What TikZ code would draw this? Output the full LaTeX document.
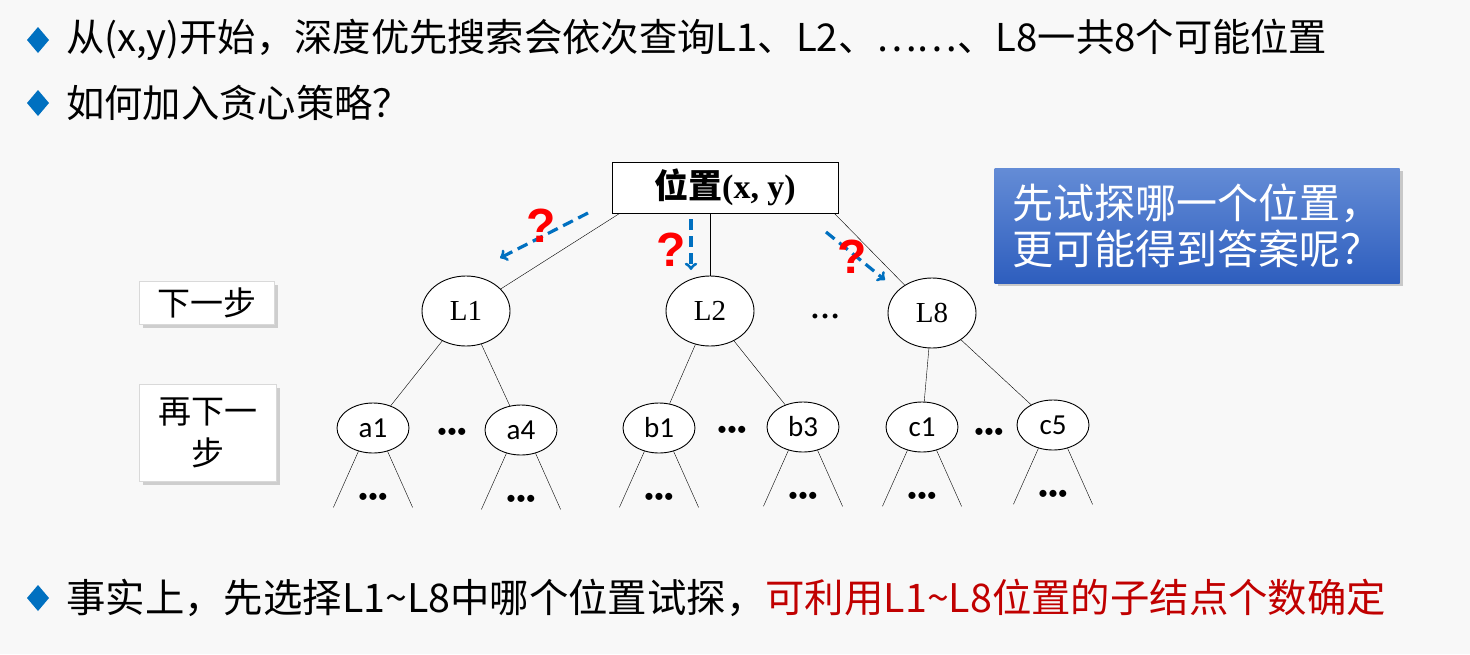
\documentclass[tikz,border=0pt]{standalone}
\usepackage{fontspec}
\setmainfont{Liberation Serif}
\newfontfamily\cjkfont{Noto Sans CJK SC}
\newfontfamily\labelfont{Carlito}
\newfontfamily\qfont{Liberation Sans}
\usetikzlibrary{shapes.geometric,shadows}

\definecolor{bggray}{RGB}{248,248,248}
\definecolor{bulletblue}{RGB}{0,112,192}
\definecolor{hintred}{RGB}{192,0,0}
\definecolor{qred}{RGB}{255,0,0}
\definecolor{boxtop}{RGB}{100,140,214}
\definecolor{boxbottom}{RGB}{46,94,190}

\begin{document}
\begin{tikzpicture}[x=1pt, y=-1pt,
		every node/.style={inner sep=0pt},
		linetext/.style={font=\cjkfont\fontsize{38.3}{44}\selectfont, anchor=west},
		stepbox/.style={draw=gray!30, fill=white, font=\cjkfont\fontsize{33}{42}\selectfont,
			drop shadow={opacity=0.35, shadow xshift=3pt, shadow yshift=-3pt}},
		bigpos/.style={ellipse, draw, line width=0.9pt, fill=white, minimum width=88pt, minimum height=70pt,
			font=\fontsize{29}{32}\selectfont},
		smallpos/.style={ellipse, draw, line width=0.9pt, fill=white, minimum width=72pt, minimum height=50pt,
			font=\labelfont\fontsize{29}{32}\selectfont},
		trydash/.style={->, bulletblue, line width=3.2pt, dash pattern=on 11pt off 6pt},
		qmark/.style={qred, font=\qfont\bfseries\fontsize{48}{50}\selectfont},
		more/.style={font=\labelfont\fontsize{20}{24}\selectfont}]
	\useasboundingbox [fill = bggray] (0,0) rectangle (1470,654);
	% bullets
	\foreach \y in {40, 103, 598}
		\fill [bulletblue] (38,\y-13) -- (49,\y) -- (38,\y+13) -- (27,\y) -- cycle;
	\node [linetext] (line1) at (66,40) {从(x,y)开始，深度优先搜索会依次查询L1、L2、……、L8一共8个可能位置};
	\node [linetext] (line2) at (66,103) {如何加入贪心策略？};
	\node [linetext, font = \cjkfont\fontsize{39.4}{44}\selectfont] (line3) at (66,598) {事实上，先选择L1\textasciitilde L8中哪个位置试探，\textcolor{hintred}{可利用L1\textasciitilde L8位置的子结点个数确定}};
	% tree
	\node [draw, line width = 0.9pt, fill = white, minimum width = 226pt, minimum height = 51pt,
		font = \bfseries\fontsize{34}{38}\selectfont] (root) at (725,187.5) {{\cjkfont\bfseries 位置}(x, y)};
	\node [bigpos] (L1) at (466,311) {L1};
	\node [bigpos] (L2) at (710,311) {L2};
	\node [bigpos] (L8) at (932,313) {L8};
	\node [font = \fontsize{30}{32}\selectfont] (dotsL) at (825,316) {\textbf{\dots}};
	\draw ([xshift = 8pt]root.south west) -- (L1);
	\draw (root.south -| L2.north) -- (L2.north);
	\draw ([xshift = -4pt]root.south east) -- (L8);
	\node [smallpos] (a1) at (373,428) {a1};
	\node [smallpos] (a4) at (521,430) {a4};
	\node [smallpos] (b1) at (659,428) {b1};
	\node [smallpos] (b3) at (803,427) {b3};
	\node [smallpos] (c1) at (922,427) {c1};
	\node [smallpos] (c5) at (1053,425) {c5};
	\node [more] (dotsa) at (452,433) {•••};
	\node [more] (dotsb) at (732,431) {•••};
	\node [more] (dotsc) at (989,433) {•••};
	\draw (L1) -- (a1);
	\draw (L1) -- (a4);
	\draw (L2) -- (b1);
	\draw (L2) -- (b3);
	\draw (L8) -- (c1);
	\draw (L8) -- (c5);
	\foreach \n in {a1, a4, b1, b3, c1, c5} {
		\draw (\n.238) -- ++(-25,56);
		\draw (\n.302) -- ++(25,56);
		\node [more] at ([yshift = -70pt]\n) {•••};
	}
	% which one first?
	\coordinate (t1s) at (588,213);
	\coordinate (t1e) at (500,258);
	\coordinate (t2s) at (691,219);
	\coordinate (t2e) at (691,270);
	\coordinate (t8s) at (826,232);
	\coordinate (t8e) at (885,280);
	\draw [trydash] (t1s) -- (t1e);
	\draw [trydash] (t2s) -- (t2e);
	\draw [trydash] (t8s) -- (t8e);
	\node [qmark] (q1) at (541,226) {?};
	\node [qmark] (q2) at (671,250) {?};
	\node [qmark] (q8) at (852,257) {?};
	% step labels
	\node [stepbox, minimum width = 135pt, minimum height = 43pt] (next) at (207,303) {下一步};
	\node [stepbox, minimum width = 137pt, minimum height = 97pt, align = center] (nextnext) at (208,433)
		{再下一\\步};
	% question box
	\node [top color = boxtop, bottom color = boxbottom, minimum width = 405pt, minimum height = 115pt,
		text = white, align = left, font = \cjkfont\fontsize{41}{46}\selectfont,
		drop shadow = {opacity = 0.4, shadow xshift = 3pt, shadow yshift = -3pt}] (ask) at (1197,225.5)
		{先试探哪一个位置，\\更可能得到答案呢？};
\end{tikzpicture}
\end{document}
